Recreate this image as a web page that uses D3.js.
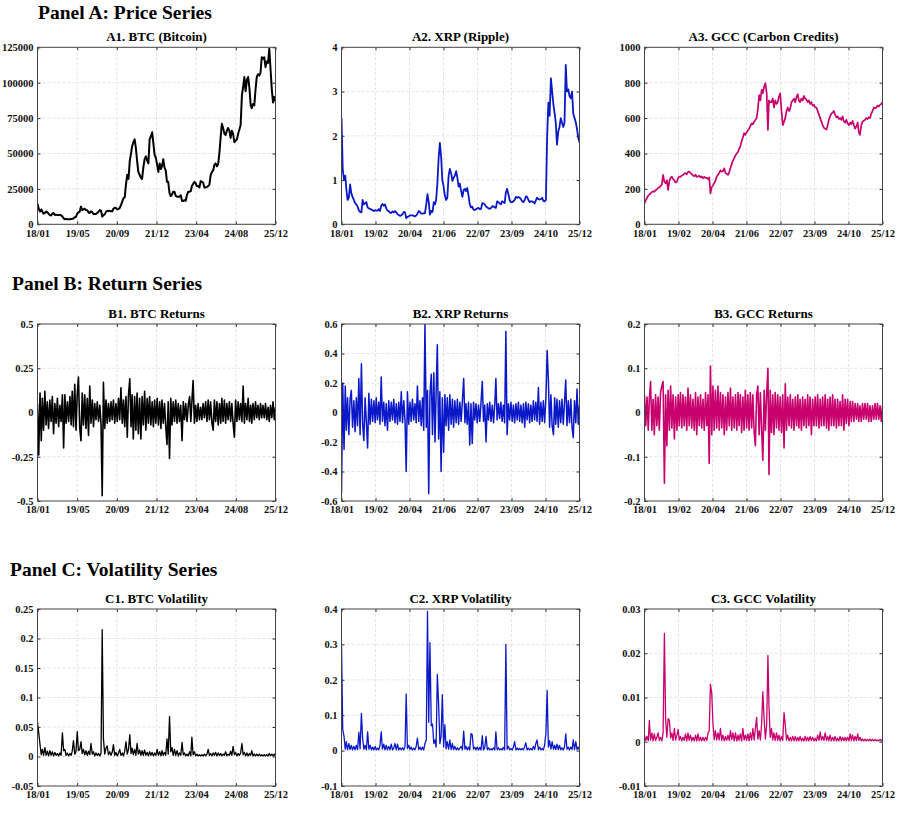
<!DOCTYPE html>
<html>
<head>
<meta charset="utf-8">
<script src="https://cdn.jsdelivr.net/npm/d3@7"></script>
<style>
  body { margin: 0; background: #fff; }
  svg { display: block; font-family: "Liberation Serif", "Times New Roman", serif; }
</style>
</head>
<body>
<div id="chart"></div>
<script>
const btcPrice = [
  14500, 11000, 9000, 10500, 9000, 7500, 8000, 9000, 8500, 7500, 6500, 6200, 7500, 8000, 6500, 6800, 6500, 6600, 6500, 6400, 5500, 4200, 3500, 3800,
  3600, 3500, 3600, 3800, 3900, 4100, 5000, 5300, 7500, 8500, 9000, 12500, 10000, 10500, 11000, 10000, 10000, 8300, 8000, 9200, 8500, 7200, 7300, 7200,
  8000, 9000, 10000, 9600, 5400, 6500, 7000, 8800, 9500, 9300, 9500, 9200, 9200, 11000, 11700, 11500, 10500, 10800, 11500, 13500, 16000, 18500, 19000, 28000,
  35000, 32000, 45000, 50000, 55000, 58000, 60000, 54000, 45000, 37000, 35000, 33000, 32000, 40000, 46000, 48000, 45000, 43000, 60000, 62000, 65000, 57000, 49000, 47000,
  42000, 37000, 43000, 39000, 41000, 46000, 40000, 38000, 30000, 30000, 22000, 20000, 21000, 23000, 23000, 20000, 19500, 19500, 19500, 20500, 16500, 16500, 17000, 16600,
  21000, 23000, 23000, 23500, 27000, 28500, 30000, 29000, 27000, 27000, 26000, 30500, 30000, 29500, 26000, 26000, 26500, 27000, 28000, 34500, 37000, 38000, 42000, 43000,
  41000, 42500, 51000, 62000, 71000, 68000, 64000, 63000, 66000, 68000, 66000, 61000, 66000, 64000, 58000, 59000, 60000, 64000, 67000, 70000, 91000, 97000, 104000, 94000,
  102000, 104000, 96000, 84000, 82000, 85000, 84000, 95000, 104000, 106000, 105000, 107000, 118000, 117000, 118000, 111000, 115000, 114000, 124000, 110000, 95000, 86000, 90000, 87000
];
const xrpPrice = [
  2.4, 1.25, 1.0, 1.1, 0.8, 0.55, 0.6, 0.9, 0.7, 0.62, 0.55, 0.48, 0.45, 0.4, 0.32, 0.28, 0.27, 0.55, 0.45, 0.47, 0.5, 0.38, 0.36, 0.35,
  0.33, 0.32, 0.3, 0.32, 0.31, 0.31, 0.34, 0.3, 0.42, 0.46, 0.42, 0.45, 0.36, 0.31, 0.3, 0.26, 0.26, 0.29, 0.27, 0.3, 0.27, 0.23, 0.21, 0.19,
  0.2, 0.23, 0.28, 0.27, 0.14, 0.17, 0.18, 0.2, 0.2, 0.2, 0.19, 0.18, 0.2, 0.24, 0.3, 0.28, 0.24, 0.24, 0.25, 0.25, 0.45, 0.68, 0.5, 0.22,
  0.3, 0.28, 0.5, 0.45, 0.55, 0.9, 1.5, 1.84, 1.55, 1.0, 0.85, 0.65, 0.55, 0.6, 1.1, 1.25, 1.15, 0.98, 1.05, 1.1, 1.2, 1.05, 0.85, 0.92,
  0.75, 0.62, 0.78, 0.8, 0.75, 0.82, 0.65, 0.45, 0.38, 0.4, 0.33, 0.32, 0.34, 0.36, 0.37, 0.34, 0.35, 0.48, 0.47, 0.45, 0.4, 0.38, 0.36, 0.35,
  0.37, 0.41, 0.4, 0.38, 0.37, 0.52, 0.5, 0.47, 0.45, 0.52, 0.5, 0.48, 0.72, 0.8, 0.68, 0.55, 0.5, 0.5, 0.52, 0.55, 0.62, 0.6, 0.62, 0.6,
  0.57, 0.52, 0.5, 0.55, 0.63, 0.62, 0.55, 0.5, 0.52, 0.52, 0.5, 0.47, 0.54, 0.6, 0.57, 0.56, 0.57, 0.6, 0.53, 0.52, 0.55, 2.0, 2.75, 2.45,
  3.3, 3.0, 2.7, 2.5, 2.3, 1.8, 2.1, 2.2, 2.4, 2.3, 2.2, 2.3, 3.6, 3.0, 3.05, 2.9, 2.85, 3.0, 2.5, 2.4, 2.3, 2.15, 1.95, 1.85
];
const gccPrice = [
  120, 135, 150, 162, 168, 175, 182, 186, 185, 192, 198, 205, 210, 215, 225, 279, 240, 232, 250, 194, 245, 262, 269, 255,
  248, 236, 240, 262, 270, 268, 275, 279, 285, 290, 282, 295, 298, 290, 283, 276, 272, 280, 268, 270, 275, 265, 270, 260,
  268, 262, 262, 255, 265, 175, 210, 220, 232, 245, 270, 280, 290, 305, 298, 300, 316, 290, 285, 279, 295, 320, 340, 360,
  375, 390, 400, 410, 425, 440, 470, 490, 515, 505, 520, 530, 540, 555, 570, 565, 580, 590, 600, 650, 730, 700, 760, 740,
  780, 797, 740, 533, 700, 690, 690, 710, 660, 700, 680, 690, 720, 740, 640, 560, 580, 600, 640, 660, 640, 655, 690, 700,
  710, 690, 720, 735, 700, 690, 710, 700, 725, 710, 705, 690, 700, 680, 690, 670, 675, 660, 660, 640, 620, 600, 580, 560,
  545, 540, 535, 560, 590, 610, 625, 630, 640, 620, 605, 610, 595, 600, 590, 610, 580, 575, 590, 570, 560, 575, 565, 585,
  560, 540, 555, 575, 520, 505, 560, 580, 585, 590, 600, 595, 605, 600, 625, 640, 660, 655, 660, 670, 665, 675, 680, 690
];
const btcReturns = [
  0.05, -0.24, 0.11, -0.16, 0.08, -0.1, 0.12, -0.07, 0.06, -0.09, 0.07, -0.05, 0.09, -0.12, 0.05, -0.06, 0.08, -0.08, 0.04, -0.05, 0.1, -0.2, 0.1, -0.06,
  0.06, -0.05, 0.09, -0.07, 0.12, -0.08, 0.16, -0.1, 0.1, 0.2, -0.09, -0.16, 0.11, -0.07, 0.1, -0.09, 0.08, -0.13, 0.15, -0.06, 0.07, -0.08, 0.05, -0.04,
  0.06, -0.05, 0.04, -0.07, -0.47, 0.17, -0.09, 0.07, -0.06, 0.05, -0.05, 0.06, -0.04, 0.07, -0.06, 0.05, -0.05, 0.08, -0.04, 0.14, -0.06, 0.07, -0.08, 0.09,
  -0.14, 0.1, 0.19, -0.08, 0.1, -0.15, 0.09, -0.1, 0.11, -0.12, 0.08, -0.15, 0.09, -0.07, 0.12, -0.1, 0.08, -0.06, 0.09, -0.07, 0.06, -0.08, 0.07, -0.06,
  0.08, -0.07, 0.06, -0.09, 0.07, -0.06, 0.05, -0.08, -0.18, 0.06, -0.26, 0.08, -0.07, 0.06, -0.05, 0.07, -0.06, 0.05, -0.05, 0.04, -0.16, 0.06, -0.04, 0.05,
  -0.05, 0.04, 0.09, -0.05, 0.06, 0.18, -0.06, 0.04, -0.05, 0.05, -0.04, 0.03, -0.04, 0.05, -0.03, 0.06, -0.05, 0.07, -0.04, 0.06, -0.06, -0.1, 0.07, -0.05,
  0.06, -0.07, 0.05, -0.06, 0.08, -0.05, 0.07, -0.06, 0.05, -0.04, 0.06, -0.05, 0.05, -0.06, -0.14, 0.07, -0.05, 0.06, -0.04, 0.05, -0.05, 0.15, -0.06, 0.05,
  -0.04, 0.08, -0.05, 0.04, -0.06, 0.05, -0.04, 0.06, -0.03, 0.04, -0.04, 0.05, -0.03, 0.04, -0.03, 0.05, -0.04, 0.03, -0.05, 0.04, -0.03, 0.06, -0.04, 0.03
];
const xrpReturns = [
  -0.55, 0.2, -0.25, 0.18, -0.12, 0.1, -0.15, 0.09, 0.15, -0.1, 0.08, -0.13, 0.1, -0.09, 0.23, -0.15, 0.33, -0.08, -0.19, 0.1, -0.07, -0.24, 0.13, -0.08,
  0.09, -0.06, 0.08, -0.07, 0.1, -0.05, 0.07, -0.08, 0.24, -0.06, 0.07, -0.09, 0.06, -0.12, 0.08, -0.06, 0.07, -0.05, 0.09, -0.07, 0.06, -0.08, 0.07, -0.06,
  0.14, -0.07, 0.08, -0.06, -0.4, 0.14, -0.08, 0.07, -0.06, 0.09, -0.05, 0.06, -0.07, 0.18, -0.06, 0.08, -0.09, 0.1, -0.12, 0.6, -0.1, 0.15, -0.55, 0.12,
  0.26, -0.15, 0.27, -0.2, 0.12, 0.46, -0.18, 0.14, -0.4, 0.1, -0.27, 0.12, -0.09, 0.1, -0.12, 0.12, -0.08, 0.09, -0.1, 0.08, -0.07, 0.09, -0.08, 0.07,
  -0.06, 0.08, 0.23, -0.07, 0.06, -0.08, 0.07, -0.22, 0.06, -0.21, 0.07, -0.05, 0.06, -0.07, 0.05, -0.06, 0.07, 0.21, -0.06, 0.05, -0.2, 0.06, -0.05, 0.07,
  -0.06, 0.05, -0.07, 0.06, 0.23, -0.05, 0.06, -0.04, 0.07, -0.06, 0.05, -0.07, 0.55, -0.15, 0.06, -0.05, 0.07, -0.06, 0.05, -0.07, 0.06, -0.05, 0.07, -0.06,
  0.05, -0.07, 0.06, -0.1, 0.07, -0.05, 0.06, -0.07, 0.05, -0.06, 0.08, -0.05, 0.07, -0.06, 0.17, -0.08, 0.07, -0.06, 0.08, -0.07, 0.1, 0.42, 0.22, -0.1,
  0.12, -0.09, -0.15, 0.1, -0.08, 0.09, -0.1, 0.08, -0.07, 0.09, -0.08, 0.07, 0.22, -0.09, 0.08, -0.07, 0.09, -0.1, -0.17, 0.08, -0.07, 0.16, -0.08, 0.05
];
const gccReturns = [
  0.04, -0.03, 0.035, -0.04, 0.03, 0.07, -0.04, 0.03, -0.05, 0.04, -0.03, 0.035, -0.04, 0.045, 0.06, 0.07, -0.16, 0.04, -0.075, 0.05, -0.04, 0.06, -0.035, 0.04,
  -0.06, 0.035, -0.04, 0.04, -0.03, 0.045, -0.035, 0.04, -0.03, 0.035, -0.04, 0.055, -0.03, 0.04, -0.035, 0.03, -0.04, 0.045, -0.05, 0.035, -0.03, 0.04, -0.035, 0.03,
  -0.04, 0.045, -0.03, 0.04, -0.115, 0.105, -0.05, 0.06, -0.04, 0.05, -0.035, 0.06, -0.04, 0.045, -0.035, 0.04, -0.05, 0.035, -0.04, 0.045, -0.03, 0.055, -0.04, 0.035,
  -0.035, 0.04, -0.04, 0.045, -0.03, 0.04, -0.045, 0.035, -0.04, 0.05, -0.035, 0.04, -0.04, 0.045, -0.035, 0.04, -0.045, -0.075, 0.04, 0.06, -0.05, 0.045, -0.04, -0.108,
  0.05, -0.04, 0.045, 0.1, -0.14, 0.05, -0.045, 0.04, -0.05, 0.045, -0.035, 0.04, -0.04, 0.035, -0.045, 0.04, -0.08, 0.065, -0.04, 0.035, -0.03, 0.04, -0.035, 0.03,
  -0.04, 0.035, -0.03, 0.04, -0.035, 0.03, -0.04, 0.035, -0.03, 0.03, -0.035, 0.04, -0.03, 0.035, -0.05, 0.03, -0.03, 0.035, -0.03, 0.04, -0.035, 0.03, -0.03, 0.035,
  -0.03, 0.04, -0.035, 0.03, -0.04, 0.035, -0.03, 0.04, -0.03, 0.03, -0.035, 0.03, -0.03, 0.025, -0.03, 0.04, -0.04, 0.03, -0.025, 0.03, -0.03, 0.025, -0.02, 0.025,
  -0.02, 0.02, -0.015, 0.02, -0.02, 0.015, -0.02, 0.02, -0.015, 0.02, -0.015, 0.02, -0.02, 0.015, -0.02, 0.015, -0.015, 0.02, -0.015, 0.02, -0.015, 0.015, -0.02, 0.015
];
const btcVol = [
  0.058, 0.04, 0.02, 0.003, 0.012, 0.002, 0.015, 0.002, 0.009, 0.001, 0.01, 0.002, 0.008, 0.001, 0.007, 0.002, 0.005, 0.001, 0.006, 0.002, 0.04, 0.01, 0.012, 0.002,
  0.006, 0.001, 0.005, 0.002, 0.009, 0.027, 0.004, 0.008, 0.042, 0.01, 0.012, 0.025, 0.005, 0.012, 0.003, 0.01, 0.002, 0.009, 0.003, 0.022, 0.004, 0.008, 0.001, 0.006,
  0.002, 0.005, 0.001, 0.006, 0.215, 0.03, 0.004, 0.014, 0.018, 0.003, 0.008, 0.002, 0.007, 0.02, 0.002, 0.007, 0.001, 0.006, 0.012, 0.002, 0.006, 0.001, 0.009, 0.025,
  0.004, 0.012, 0.037, 0.005, 0.014, 0.003, 0.012, 0.002, 0.022, 0.004, 0.011, 0.002, 0.01, 0.002, 0.011, 0.002, 0.007, 0.001, 0.008, 0.002, 0.007, 0.001, 0.006, 0.002,
  0.012, 0.002, 0.008, 0.001, 0.01, 0.002, 0.007, 0.002, 0.03, 0.004, 0.068, 0.008, 0.015, 0.002, 0.012, 0.002, 0.01, 0.001, 0.006, 0.002, 0.024, 0.003, 0.006, 0.001,
  0.004, 0.001, 0.008, 0.001, 0.033, 0.003, 0.008, 0.001, 0.004, 0.001, 0.003, 0.001, 0.003, 0.001, 0.004, 0.001, 0.004, 0.012, 0.002, 0.005, 0.001, 0.006, 0.002, 0.007,
  0.001, 0.006, 0.002, 0.005, 0.001, 0.004, 0.002, 0.008, 0.001, 0.004, 0.002, 0.009, 0.002, 0.017, 0.003, 0.007, 0.001, 0.005, 0.002, 0.006, 0.022, 0.003, 0.007, 0.001,
  0.006, 0.001, 0.005, 0.002, 0.01, 0.001, 0.004, 0.001, 0.004, 0.001, 0.004, 0.001, 0.003, 0.001, 0.003, 0.001, 0.003, 0.001, 0.005, 0.001, 0.004, 0.001, 0.004, 0.001
];
const xrpVol = [
  0.3, 0.06, 0.04, 0.004, 0.025, 0.003, 0.02, 0.003, 0.015, 0.002, 0.012, 0.002, 0.015, 0.003, 0.052, 0.005, 0.105, 0.035, 0.004, 0.015, 0.002, 0.053, 0.004, 0.015,
  0.002, 0.01, 0.002, 0.012, 0.002, 0.007, 0.002, 0.015, 0.053, 0.004, 0.018, 0.002, 0.015, 0.002, 0.012, 0.002, 0.018, 0.002, 0.007, 0.02, 0.002, 0.018, 0.002, 0.008,
  0.002, 0.008, 0.002, 0.012, 0.16, 0.006, 0.015, 0.003, 0.01, 0.002, 0.007, 0.002, 0.012, 0.035, 0.003, 0.01, 0.002, 0.01, 0.002, 0.02, 0.03, 0.393, 0.08, 0.305,
  0.07, 0.075, 0.02, 0.03, 0.01, 0.215, 0.13, 0.02, 0.04, 0.158, 0.01, 0.073, 0.005, 0.025, 0.004, 0.03, 0.003, 0.02, 0.003, 0.012, 0.002, 0.008, 0.002, 0.007,
  0.012, 0.002, 0.055, 0.004, 0.012, 0.002, 0.01, 0.002, 0.048, 0.045, 0.004, 0.01, 0.002, 0.01, 0.002, 0.009, 0.002, 0.042, 0.002, 0.008, 0.04, 0.003, 0.008, 0.002,
  0.005, 0.002, 0.008, 0.002, 0.053, 0.003, 0.008, 0.002, 0.005, 0.002, 0.009, 0.002, 0.3, 0.004, 0.012, 0.002, 0.006, 0.002, 0.01, 0.025, 0.002, 0.007, 0.002, 0.006,
  0.002, 0.006, 0.002, 0.012, 0.022, 0.002, 0.007, 0.002, 0.006, 0.002, 0.012, 0.003, 0.02, 0.03, 0.003, 0.01, 0.002, 0.006, 0.002, 0.015, 0.05, 0.17, 0.01, 0.028,
  0.004, 0.025, 0.004, 0.015, 0.003, 0.018, 0.003, 0.015, 0.002, 0.008, 0.002, 0.01, 0.047, 0.004, 0.01, 0.002, 0.01, 0.003, 0.03, 0.003, 0.025, 0.003, 0.01, 0.002
];
const gccVol = [
  0.0015, 0.0003, 0.0012, 0.0002, 0.0048, 0.0004, 0.002, 0.0002, 0.0018, 0.0003, 0.001, 0.002, 0.0003, 0.001, 0.0002, 0.002, 0.0245, 0.005, 0.001, 0.0052, 0.0048, 0.0008, 0.002, 0.0003,
  0.003, 0.0004, 0.0015, 0.0028, 0.0004, 0.0012, 0.0002, 0.001, 0.0003, 0.0018, 0.0002, 0.002, 0.0003, 0.0015, 0.0002, 0.001, 0.0002, 0.0015, 0.0002, 0.0018, 0.0002, 0.001, 0.0002, 0.001,
  0.0002, 0.001, 0.0003, 0.002, 0.0025, 0.013, 0.011, 0.004, 0.0005, 0.0025, 0.0004, 0.002, 0.0004, 0.003, 0.0003, 0.0015, 0.0002, 0.0012, 0.0003, 0.0015, 0.0003, 0.0025, 0.0005, 0.002,
  0.0002, 0.002, 0.0002, 0.0015, 0.0003, 0.0018, 0.0002, 0.003, 0.0004, 0.0015, 0.0003, 0.0018, 0.0002, 0.002, 0.0004, 0.003, 0.0004, 0.003, 0.0055, 0.0006, 0.0025, 0.0004, 0.004, 0.0113,
  0.005, 0.0006, 0.004, 0.0195, 0.008, 0.001, 0.003, 0.0004, 0.002, 0.0003, 0.002, 0.0003, 0.0015, 0.0002, 0.0012, 0.0003, 0.0066, 0.0038, 0.0004, 0.0015, 0.0002, 0.001, 0.0002, 0.0012,
  0.0002, 0.0012, 0.0002, 0.001, 0.0002, 0.0012, 0.0002, 0.0008, 0.0002, 0.0012, 0.0002, 0.001, 0.0002, 0.0012, 0.0003, 0.001, 0.0002, 0.0008, 0.0002, 0.0015, 0.0003, 0.0022, 0.0004, 0.0012,
  0.0003, 0.002, 0.0003, 0.0012, 0.0002, 0.0015, 0.0002, 0.001, 0.0002, 0.0012, 0.0002, 0.0008, 0.0002, 0.0012, 0.0002, 0.001, 0.0002, 0.001, 0.0002, 0.001, 0.0002, 0.0018, 0.0003, 0.0015,
  0.0002, 0.0012, 0.0003, 0.0018, 0.0003, 0.001, 0.0002, 0.0006, 0.0002, 0.0006, 0.0002, 0.0005, 0.0002, 0.0006, 0.0002, 0.0005, 0.0002, 0.0005, 0.0002, 0.0004, 0.0002, 0.0005, 0.0002, 0.0005
];

// tick labels
const xLabelsBtc = ["18/01", "19/05", "20/09", "21/12", "23/04", "24/08", "25/12"];
const xLabelsOther = ["18/01", "19/02", "20/04", "21/06", "22/07", "23/09", "24/10", "25/12"];
const yTicksBtcPrice = [0, 25000, 50000, 75000, 100000, 125000];
const yTicksXrpPrice = [0, 1, 2, 3, 4];
const yTicksGccPrice = [0, 200, 400, 600, 800, 1000];
const yTicksBtcRet = [-0.5, -0.25, 0, 0.25, 0.5];
const yTicksXrpRet = [-0.6, -0.4, -0.2, 0, 0.2, 0.4, 0.6];
const yTicksGccRet = [-0.2, -0.1, 0, 0.1, 0.2];
const yTicksBtcVol = [-0.05, 0, 0.05, 0.1, 0.15, 0.2, 0.25];
const yTicksXrpVol = [-0.1, 0, 0.1, 0.2, 0.3, 0.4];
const yTicksGccVol = [-0.01, 0, 0.01, 0.02, 0.03];

const colBtc = "#000000", colXrp = "#0a18c8", colGcc = "#c8006e";

const W = 897, H = 817;
const pw = 238, ph = 177;
const colX = [37.5, 341.5, 644.5];
const rowY = [47.3, 324, 609];

const dates = d3.range(btcPrice.length)
  .map(i => new Date(2018, Math.floor(i / 2), i % 2 ? 16 : 1));

const svg = d3.select("#chart").append("svg")
  .attr("width", W).attr("height", H);

const panelTitles = [
  { text: "Panel A: Price Series", x: 38, y: 19 },
  { text: "Panel B: Return Series", x: 12, y: 290 },
  { text: "Panel C: Volatility Series", x: 10, y: 576 }
];
svg.selectAll(".panelTitle").data(panelTitles).join("text")
  .attr("class", "panelTitle")
  .attr("x", d => d.x).attr("y", d => d.y)
  .style("font-size", "19.5px").style("font-weight", "bold")
  .text(d => d.text);

const panels = [
  { title: "A1. BTC (Bitcoin)", values: btcPrice, yTicks: yTicksBtcPrice, xLabels: xLabelsBtc, color: colBtc, lw: 2, row: 0, col: 0 },
  { title: "A2. XRP (Ripple)", values: xrpPrice, yTicks: yTicksXrpPrice, xLabels: xLabelsOther, color: colXrp, lw: 1.8, row: 0, col: 1 },
  { title: "A3. GCC (Carbon Credits)", values: gccPrice, yTicks: yTicksGccPrice, xLabels: xLabelsOther, color: colGcc, lw: 1.7, row: 0, col: 2 },
  { title: "B1. BTC Returns", values: btcReturns, yTicks: yTicksBtcRet, xLabels: xLabelsBtc, color: colBtc, lw: 1.6, row: 1, col: 0 },
  { title: "B2. XRP Returns", values: xrpReturns, yTicks: yTicksXrpRet, xLabels: xLabelsOther, color: colXrp, lw: 1.5, row: 1, col: 1 },
  { title: "B3. GCC Returns", values: gccReturns, yTicks: yTicksGccRet, xLabels: xLabelsOther, color: colGcc, lw: 1.6, row: 1, col: 2 },
  { title: "C1. BTC Volatility", values: btcVol, yTicks: yTicksBtcVol, xLabels: xLabelsBtc, color: colBtc, lw: 1.3, row: 2, col: 0 },
  { title: "C2. XRP Volatility", values: xrpVol, yTicks: yTicksXrpVol, xLabels: xLabelsOther, color: colXrp, lw: 1.3, row: 2, col: 1 },
  { title: "C3. GCC Volatility", values: gccVol, yTicks: yTicksGccVol, xLabels: xLabelsOther, color: colGcc, lw: 1.3, row: 2, col: 2 }
];

function drawPanel(p, idx) {
  const g = svg.append("g")
    .attr("transform", `translate(${colX[p.col]},${rowY[p.row]})`);

  const x = d3.scaleTime().domain(d3.extent(dates)).range([0, pw]);
  const y = d3.scaleLinear().domain(d3.extent(p.yTicks)).range([ph, 0]);
  const [t0, t1] = x.domain();
  const n = p.xLabels.length;
  const xTicks = d3.range(n).map(k => new Date(+t0 + k * (t1 - t0) / (n - 1)));

  // dashed grid
  g.append("g").selectAll("line").data(xTicks.slice(1, -1)).join("line")
    .attr("x1", d => x(d)).attr("x2", d => x(d))
    .attr("y1", 0).attr("y2", ph)
    .attr("stroke", "#e4e4e4").attr("stroke-dasharray", "3,2");
  g.append("g").selectAll("line").data(p.yTicks.slice(1, -1)).join("line")
    .attr("x1", 0).attr("x2", pw)
    .attr("y1", d => y(d)).attr("y2", d => y(d))
    .attr("stroke", "#e4e4e4").attr("stroke-dasharray", "3,2");

  // series
  g.append("clipPath").attr("id", "clip" + idx)
    .append("rect").attr("width", pw).attr("height", ph);
  g.append("path").datum(p.values)
    .attr("clip-path", `url(#clip${idx})`)
    .attr("fill", "none")
    .attr("stroke", p.color)
    .attr("stroke-width", p.lw)
    .attr("stroke-linejoin", "round")
    .attr("d", d3.line().x((d, i) => x(dates[i])).y(d => y(d)));

  // axes, ticks pointing inwards on all four sides
  const styleAxis = sel => {
    sel.attr("font-family", null).attr("font-size", null);
    sel.select(".domain").remove();
    sel.selectAll(".tick line").attr("stroke", "#333");
    sel.selectAll("text")
      .style("font-size", "10.5px").style("font-weight", "bold").attr("fill", "#111");
  };
  g.append("g").attr("transform", `translate(0,${ph})`)
    .call(d3.axisBottom(x).tickValues(xTicks).tickSize(-3).tickPadding(5)
      .tickFormat((d, i) => p.xLabels[i]))
    .call(styleAxis);
  g.append("g")
    .call(d3.axisTop(x).tickValues(xTicks).tickSize(-3).tickFormat(""))
    .call(styleAxis);
  g.append("g")
    .call(d3.axisLeft(y).tickValues(p.yTicks).tickSize(-3).tickPadding(4)
      .tickFormat(d => String(d)))
    .call(styleAxis);
  g.append("g").attr("transform", `translate(${pw},0)`)
    .call(d3.axisRight(y).tickValues(p.yTicks).tickSize(-3).tickFormat(""))
    .call(styleAxis);

  // frame
  g.append("rect")
    .attr("width", pw).attr("height", ph)
    .attr("fill", "none").attr("stroke", "#444").attr("stroke-width", 1);

  g.append("text")
    .attr("x", pw / 2).attr("y", -6)
    .attr("text-anchor", "middle")
    .style("font-size", "13px").style("font-weight", "bold")
    .text(p.title);
}

panels.forEach(drawPanel);
</script>
</body>
</html>
